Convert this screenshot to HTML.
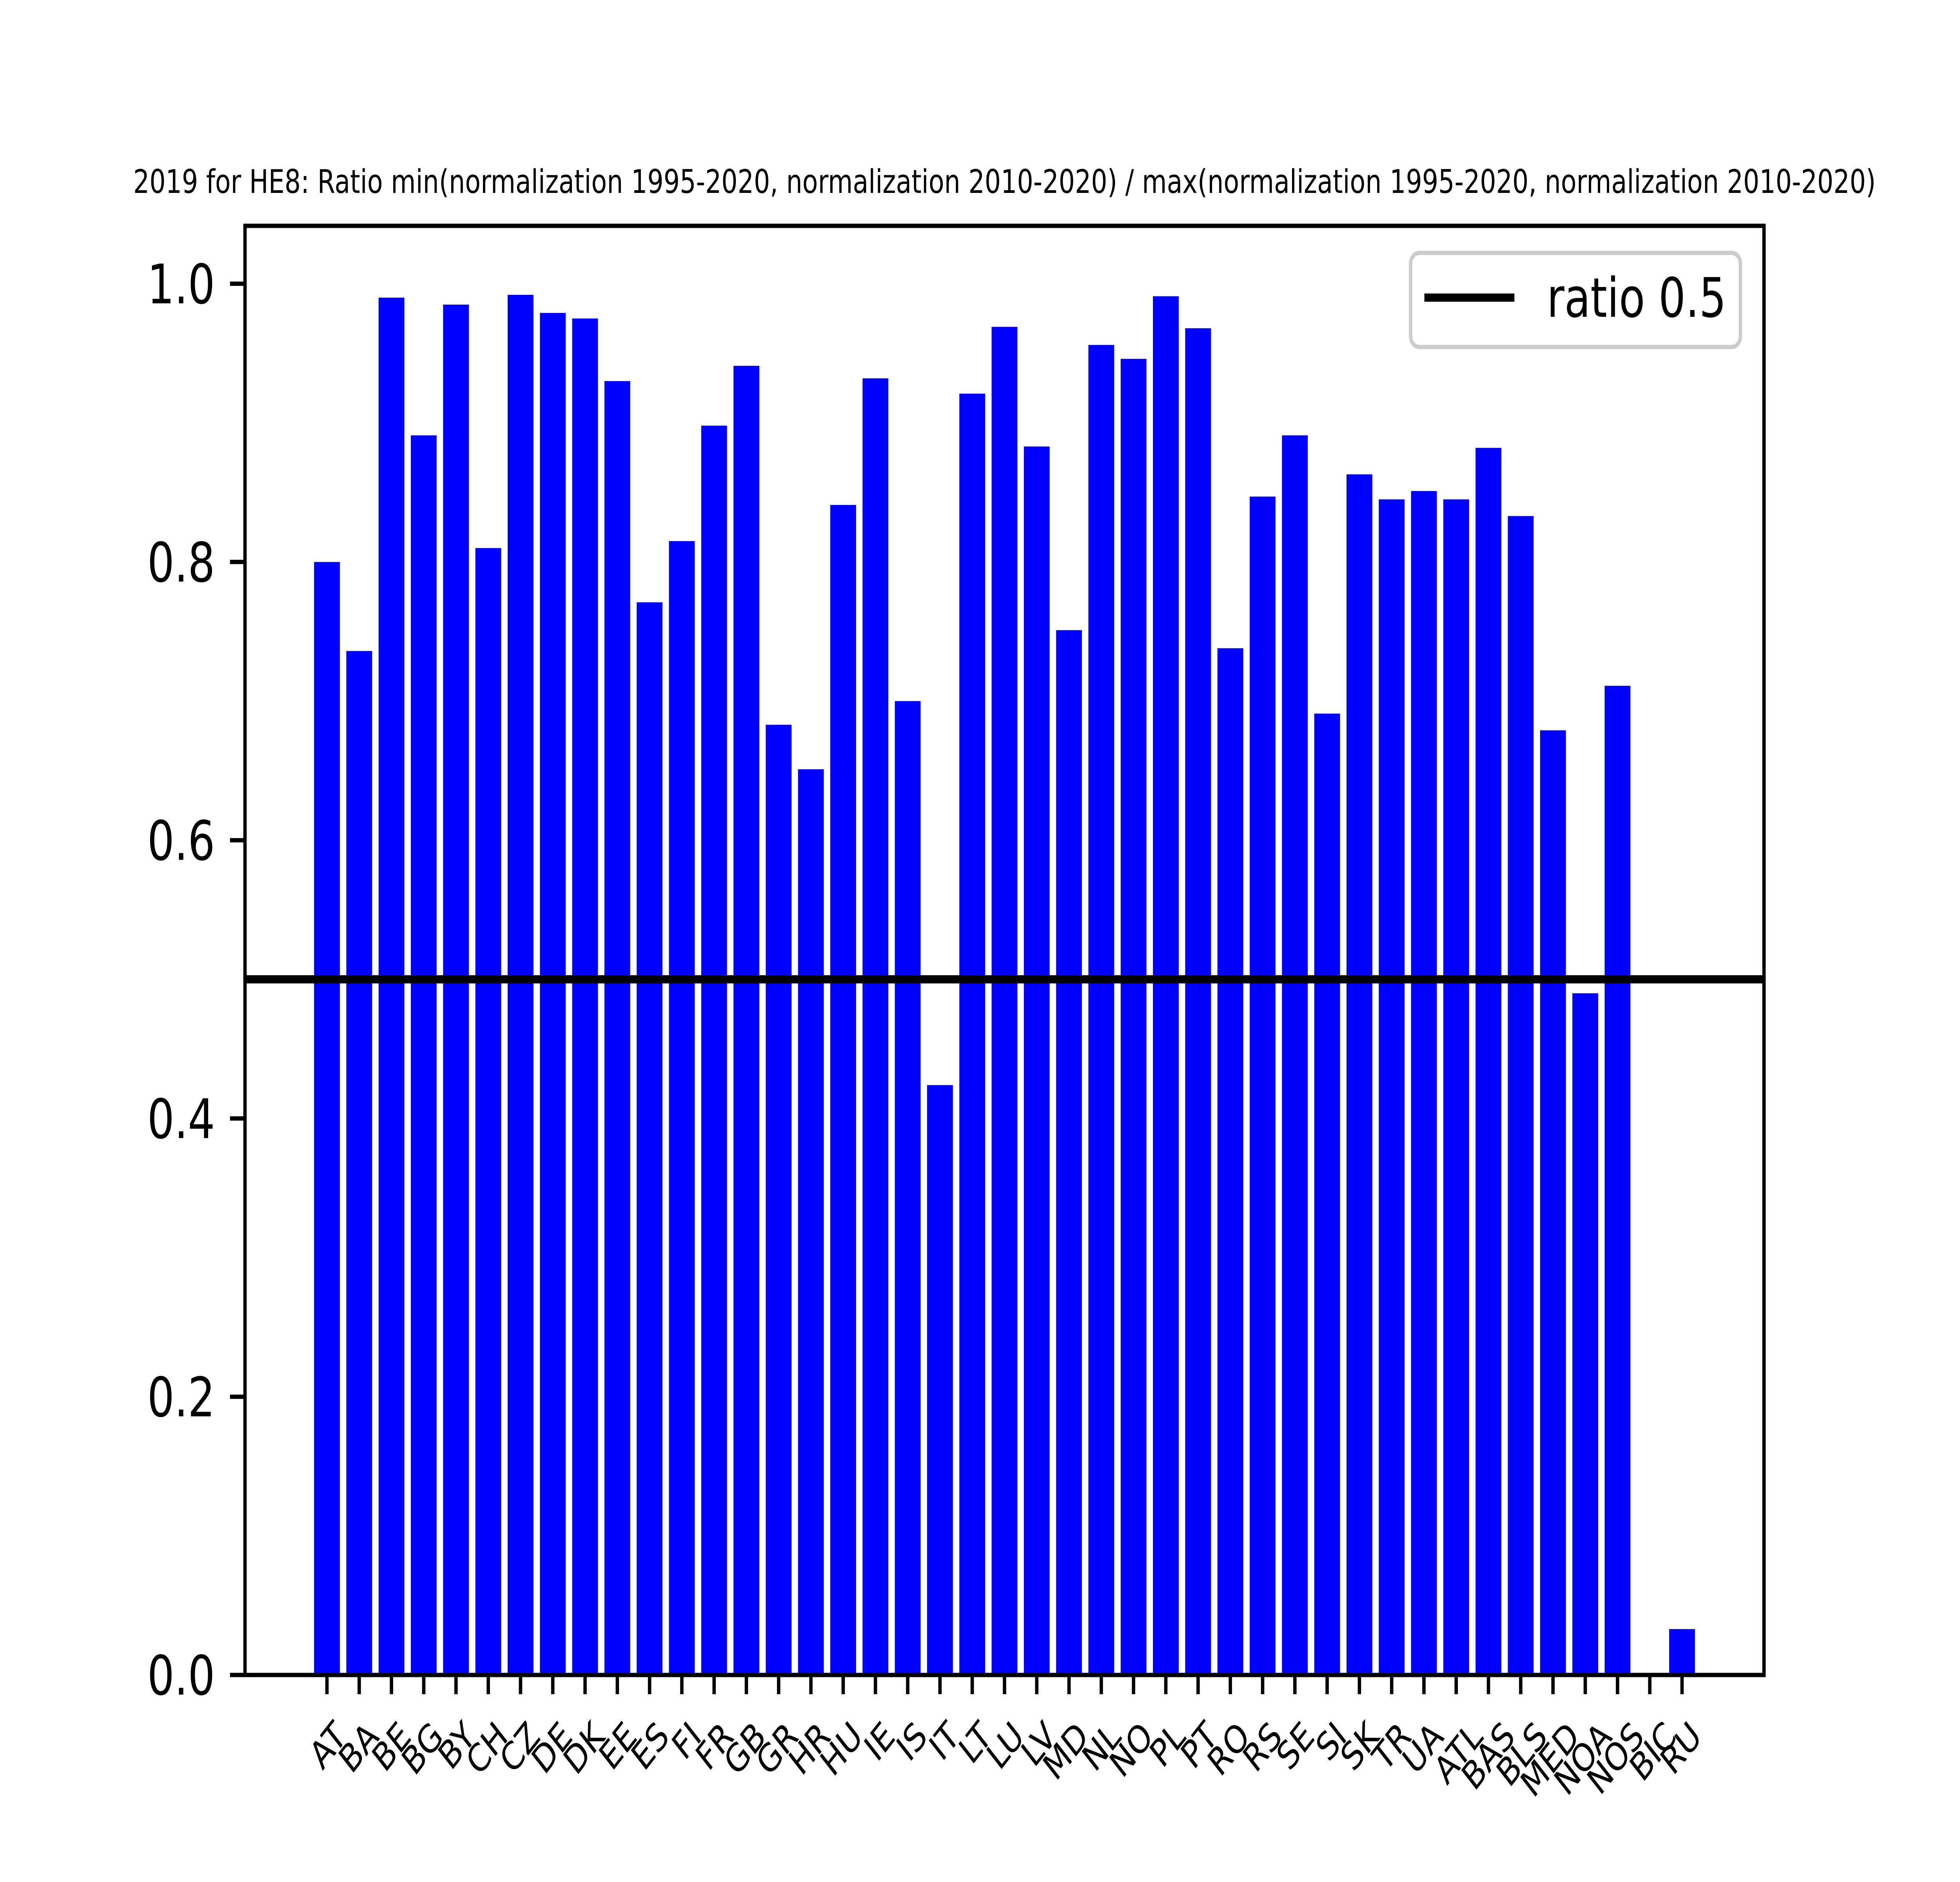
<!DOCTYPE html>
<html><head><meta charset="utf-8"><style>
html,body{margin:0;padding:0;background:#fff;width:100%;height:100%;overflow:hidden;}
svg{display:block;width:100vw;height:100vh;font-family:"DejaVu Sans","Liberation Sans",sans-serif;}
</style></head><body>
<svg id="chart" viewBox="0 0 6400 4800" preserveAspectRatio="none" xmlns="http://www.w3.org/2000/svg">
<rect x="0" y="0" width="6400" height="4800" fill="#fff"/>
<text x="3280" y="492" font-size="83" text-anchor="middle" textLength="5690" lengthAdjust="spacingAndGlyphs">2019 for HE8: Ratio min(normalization 1995-2020, normalization 2010-2020) / max(normalization 1995-2020, normalization 2010-2020)</text>
<g id="bars"></g>
<g id="ticks"></g>
<line id="hline" stroke="#000" stroke-width="21"/>
<rect x="800" y="576" width="4960" height="3696" fill="none" stroke="#000" stroke-width="11"/>
<g>
<rect x="4606" y="645" width="1077" height="240" rx="28" fill="#fff" fill-opacity="0.8" stroke="#ccc" stroke-width="11"/>
<line x1="4651" y1="759" x2="4945" y2="759" stroke="#000" stroke-width="21"/>
<text x="5051" y="808" font-size="139">ratio 0.5</text>
</g>
</svg>
<script>
const categories = ["AT","BA","BE","BG","BY","CH","CZ","DE","DK","EE","ES","FI","FR","GB","GR","HR","HU","IE","IS","IT","LT","LU","LV","MD","NL","NO","PL","PT","RO","RS","SE","SI","SK","TR","UA","ATL","BAS","BLS","MED","NOA","NOS","BIC","RU"];
const values = [0.800,0.736,0.990,0.891,0.985,0.810,0.992,0.979,0.975,0.930,0.771,0.815,0.898,0.941,0.683,0.651,0.841,0.932,0.700,0.424,0.921,0.969,0.883,0.751,0.956,0.946,0.991,0.968,0.738,0.847,0.891,0.691,0.863,0.845,0.851,0.845,0.882,0.833,0.679,0.490,0.711,0,0.033];
const yTicks = [0.0,0.2,0.4,0.6,0.8,1.0];
const yTickLabels = ["0.0","0.2","0.4","0.6","0.8","1.0"];
const refValue = 0.5;

const NS = "http://www.w3.org/2000/svg";
const L = 800, R = 5760, T = 576, B = 4272;
const n = categories.length;
const span = (n - 1) + 0.8;
const pad = span * 0.05;
const xMin = -0.4 - pad, xMax = (n - 1) + 0.4 + pad;
const yMax = Math.max(...values) * 1.05;
function xs(v){ return L + (v - xMin) / (xMax - xMin) * (R - L); }
function ys(v){ return B - v / yMax * (B - T); }

const bars = document.getElementById('bars');
const ticks = document.getElementById('ticks');
const bw = 0.8;
categories.forEach((c, i) => {
  const v = values[i];
  const r = document.createElementNS(NS, 'rect');
  r.setAttribute('x', xs(i - bw/2));
  r.setAttribute('width', xs(i + bw/2) - xs(i - bw/2));
  r.setAttribute('y', ys(v));
  r.setAttribute('height', Math.max(0, ys(0) - ys(v)));
  r.setAttribute('fill', '#0000ff');
  
  
  bars.appendChild(r);

  const x = xs(i);
  const t = document.createElementNS(NS, 'line');
  t.setAttribute('x1', x); t.setAttribute('x2', x);
  t.setAttribute('y1', B); t.setAttribute('y2', B + 49);
  t.setAttribute('stroke', '#000'); t.setAttribute('stroke-width', 11);
  
  
  ticks.appendChild(t);

  const F = 97;
  const w = c.length * 0.66 * F;
  const px = x + w * 0.707 / 2;
  const py = 4370 + 113 * 0.354;
  const lab = document.createElementNS(NS, 'text');
  lab.setAttribute('x', px); lab.setAttribute('y', py);
  lab.setAttribute('font-size', F);
  lab.setAttribute('text-anchor', 'end');
  lab.setAttribute('dominant-baseline', 'central');
  lab.setAttribute('transform', 'rotate(-45 ' + px + ' ' + py + ')');
  lab.textContent = c;
  
  
  ticks.appendChild(lab);
});

yTicks.forEach((v, i) => {
  const y = ys(v);
  const t = document.createElementNS(NS, 'line');
  t.setAttribute('x1', L - 49); t.setAttribute('x2', L);
  t.setAttribute('y1', y); t.setAttribute('y2', y);
  t.setAttribute('stroke', '#000'); t.setAttribute('stroke-width', 11);
  
  
  ticks.appendChild(t);
  const lab = document.createElementNS(NS, 'text');
  lab.setAttribute('x', L - 98); lab.setAttribute('y', y + 50);
  lab.setAttribute('font-size', 139);
  lab.setAttribute('text-anchor', 'end');
  lab.textContent = yTickLabels[i];
  
  
  ticks.appendChild(lab);
});

const h = document.getElementById('hline');
h.setAttribute('x1', L); h.setAttribute('x2', R);
h.setAttribute('y1', ys(refValue)); h.setAttribute('y2', ys(refValue));
</script>
</body></html>
